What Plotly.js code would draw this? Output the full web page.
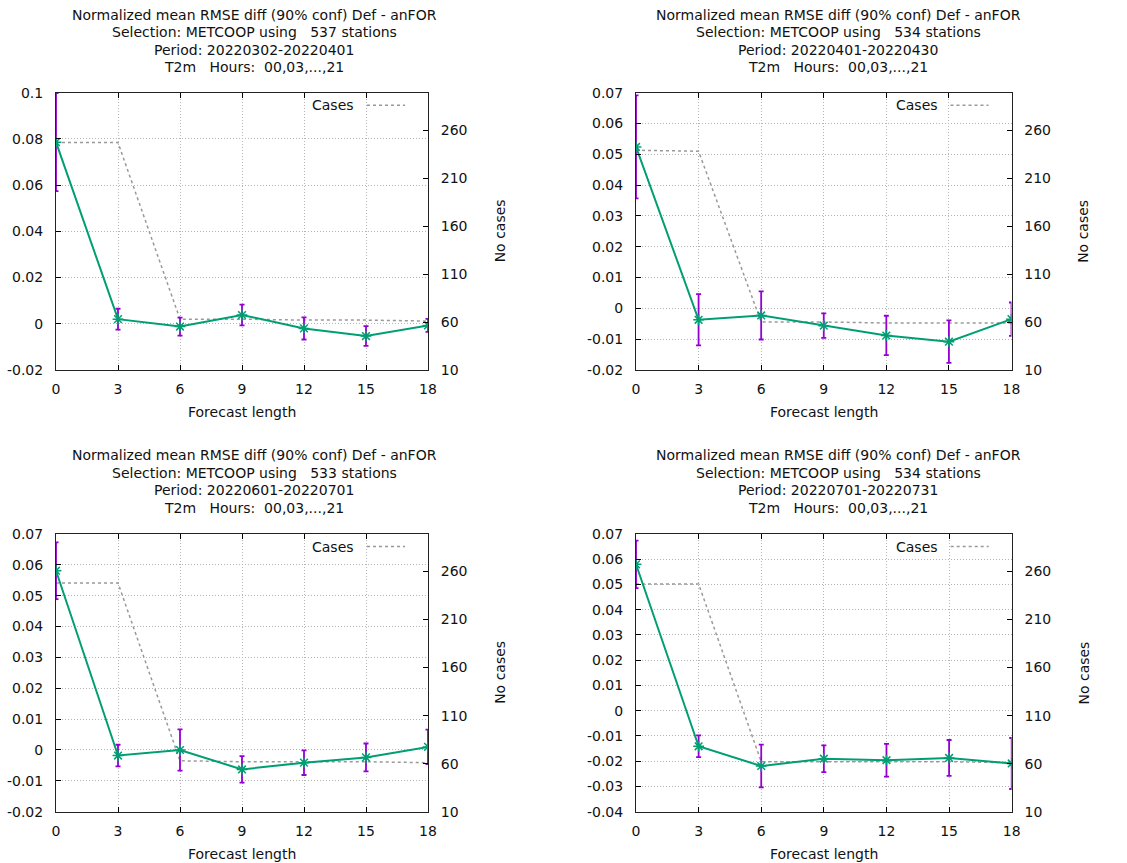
<!DOCTYPE html>
<html>
<head>
<meta charset="utf-8">
<script src="https://cdn.plot.ly/plotly-3.0.1.min.js"></script>
<style>
  html, body { margin: 0; padding: 0; background: #fff; }
  #chart { width: 1127px; height: 863px; }
</style>
</head>
<body>
<div id="chart"></div>
<script>
// ---------------- data ----------------
const forecastLength = [0, 3, 6, 9, 12, 15, 18];
const xTickLabels = ['0', '3', '6', '9', '12', '15', '18'];

const stations = [537, 534, 533, 534];
const periods = ['20220302-20220401', '20220401-20220430', '20220601-20220701', '20220701-20220731'];

const rmseDiff1 = [0.0786, 0.0020, -0.0012, 0.0038, -0.0020, -0.0053, -0.0007];
const errConf1  = [0.0212, 0.0045, 0.0039, 0.0045, 0.0048, 0.0043, 0.0028];
const cases1    = [247, 247, 63, 63, 62, 62, 61];

const rmseDiff2 = [0.0524, -0.0037, -0.0023, -0.0056, -0.0088, -0.0108, -0.0035];
const errConf2  = [0.0167, 0.0083, 0.0078, 0.0040, 0.0064, 0.0069, 0.0054];
const cases2    = [239, 238, 60, 60, 59, 59, 59];

const rmseDiff3 = [0.0581, -0.0018, 0.0000, -0.0063, -0.0041, -0.0024, 0.0010];
const errConf3  = [0.0092, 0.0035, 0.0067, 0.0043, 0.0040, 0.0045, 0.0056];
const cases3    = [248, 248, 63, 62, 62, 62, 61];

const rmseDiff4 = [0.0580, -0.0141, -0.0219, -0.0190, -0.0196, -0.0187, -0.0209];
const errConf4  = [0.0094, 0.0043, 0.0085, 0.0053, 0.0065, 0.0071, 0.0101];
const cases4    = [247, 247, 62, 62, 62, 62, 61];

const yTicks1 = [-0.02, 0, 0.02, 0.04, 0.06, 0.08, 0.1];
const yTickLabels1 = ['-0.02', '0', '0.02', '0.04', '0.06', '0.08', '0.1'];
const yTicks23 = [-0.02, -0.01, 0, 0.01, 0.02, 0.03, 0.04, 0.05, 0.06, 0.07];
const yTickLabels23 = ['-0.02', '-0.01', '0', '0.01', '0.02', '0.03', '0.04', '0.05', '0.06', '0.07'];
const yTicks4 = [-0.04, -0.03, -0.02, -0.01, 0, 0.01, 0.02, 0.03, 0.04, 0.05, 0.06, 0.07];
const yTickLabels4 = ['-0.04', '-0.03', '-0.02', '-0.01', '0', '0.01', '0.02', '0.03', '0.04', '0.05', '0.06', '0.07'];
const casesTicks = [10, 60, 110, 160, 210, 260];
const casesTickLabels = ['10', '60', '110', '160', '210', '260'];

// ---------------- layout helpers ----------------
const W = 1127, H = 863;
const px = v => v / W;
const py = v => 1 - v / H;

const panels = [
  { rmse: rmseDiff1, err: errConf1, cases: cases1, yt: yTicks1, ytl: yTickLabels1, yr: [-0.02, 0.1],
    x0: 56, x1: 428, y0: 92.7, y1: 370, tx: 254, ty: 14.5 },
  { rmse: rmseDiff2, err: errConf2, cases: cases2, yt: yTicks23, ytl: yTickLabels23, yr: [-0.02, 0.07],
    x0: 636, x1: 1011.5, y0: 92.7, y1: 370, tx: 838, ty: 14.5 },
  { rmse: rmseDiff3, err: errConf3, cases: cases3, yt: yTicks23, ytl: yTickLabels23, yr: [-0.02, 0.07],
    x0: 56, x1: 428, y0: 534, y1: 811.7, tx: 254, ty: 455 },
  { rmse: rmseDiff4, err: errConf4, cases: cases4, yt: yTicks4, ytl: yTickLabels4, yr: [-0.04, 0.07],
    x0: 636, x1: 1011.7, y0: 534, y1: 811.7, tx: 838, ty: 455 }
];

const font = { family: 'DejaVu Sans, sans-serif', size: 14, color: '#111' };
const gridCol = '#b4b4b4';
const traces = [];
const layout = {
  width: W, height: H,
  margin: { l: 0, r: 0, t: 0, b: 0 },
  paper_bgcolor: '#fff', plot_bgcolor: 'rgba(0,0,0,0)',
  showlegend: false,
  font: font,
  annotations: [],
  shapes: []
};

panels.forEach((p, i) => {
  const n = i + 1;
  const xa = 'x' + (n === 1 ? '' : n);
  const yc = 2 * n - 1, yv = 2 * n;          // cases axis (base, right), values axis (overlay, left)
  const ycName = 'y' + (yc === 1 ? '' : yc);
  const yvName = 'y' + yv;

  traces.push({
    x: forecastLength, y: p.cases, xaxis: xa, yaxis: ycName,
    type: 'scatter', mode: 'lines', name: 'Cases',
    line: { color: '#999999', width: 1.5, dash: '3px,3px' },
    hoverinfo: 'skip'
  });
  traces.push({
    x: forecastLength, y: p.rmse, xaxis: xa, yaxis: yvName,
    type: 'scatter', mode: 'lines+markers', name: 'RMSE diff',
    line: { color: '#009e73', width: 2 },
    marker: { symbol: 'asterisk-open', size: 9, color: '#009e73', line: { color: '#009e73', width: 1.5 } },
    error_y: { type: 'data', array: p.err, visible: true, color: '#9400d3', thickness: 1.8, width: 2.5 }
  });

  const xDom = [px(p.x0), px(p.x1)];
  const yDom = [py(p.y1), py(p.y0)];

  layout['xaxis' + (n === 1 ? '' : n)] = {
    domain: xDom, anchor: ycName, range: [0, 18],
    tickvals: forecastLength, ticktext: xTickLabels,
    ticks: 'inside', ticklen: 5, tickcolor: '#000', tickwidth: 1,
    showline: true, linecolor: '#222', linewidth: 1, mirror: 'ticks',
    showgrid: true, gridcolor: gridCol, griddash: '1px,2px', gridwidth: 1,
    zeroline: false, ticklabelstandoff: 6, tickfont: font, fixedrange: true
  };
  layout['yaxis' + (yc === 1 ? '' : yc)] = {
    domain: yDom, anchor: xa, side: 'right', range: [10, 299],
    tickvals: casesTicks, ticktext: casesTickLabels,
    ticks: 'inside', ticklen: 5, tickcolor: '#000', tickwidth: 1,
    showline: true, linecolor: '#222', linewidth: 1,
    showgrid: false, zeroline: false, ticklabelstandoff: 9, tickfont: font, fixedrange: true
  };
  layout['yaxis' + yv] = {
    domain: yDom, anchor: xa, overlaying: ycName, side: 'left', range: p.yr,
    tickvals: p.yt, ticktext: p.ytl,
    ticks: 'inside', ticklen: 5, tickcolor: '#000', tickwidth: 1,
    showline: true, linecolor: '#222', linewidth: 1, mirror: true,
    showgrid: true, gridcolor: gridCol, griddash: '1px,2px', gridwidth: 1,
    zeroline: false, ticklabelstandoff: 9, tickfont: font, fixedrange: true
  };

  // title, one annotation per line
  const titleLines = [
    'Normalized mean RMSE diff (90% conf) Def - anFOR',
    'Selection: METCOOP using   ' + stations[i] + ' stations',
    'Period: ' + periods[i],
    'T2m   Hours:  00,03,...,21'
  ];
  titleLines.forEach((t, k) => {
    layout.annotations.push({
      xref: 'paper', yref: 'paper', x: px(p.tx), y: py(p.ty + 17.5 * k), xanchor: 'center', yanchor: 'middle',
      showarrow: false, font: font, text: t
    });
  });
  // x axis title
  layout.annotations.push({
    xref: 'paper', yref: 'paper', x: px((p.x0 + p.x1) / 2), y: py(p.y1 + 42), xanchor: 'center', yanchor: 'middle',
    showarrow: false, font: font, text: 'Forecast length'
  });
  // right axis title
  layout.annotations.push({
    xref: 'paper', yref: 'paper', x: px(p.x1 + 72), y: py((p.y0 + p.y1) / 2), xanchor: 'center', yanchor: 'middle',
    showarrow: false, font: font, text: 'No cases', textangle: -90
  });
  // key: text left of dashed sample
  const keyY = p.y0 + 12.5;
  layout.annotations.push({
    xref: 'paper', yref: 'paper', x: px(p.x1 - 72), y: py(keyY), xanchor: 'right', yanchor: 'middle',
    showarrow: false, font: font, text: 'Cases'
  });
  layout.shapes.push({
    type: 'line', xref: 'paper', yref: 'paper',
    x0: px(p.x1 - 61), x1: px(p.x1 - 23), y0: py(keyY), y1: py(keyY),
    line: { color: '#999999', width: 1.5, dash: '3px,3px' }
  });
});

Plotly.newPlot('chart', traces, layout, { displayModeBar: false, staticPlot: true });
</script>
</body>
</html>
